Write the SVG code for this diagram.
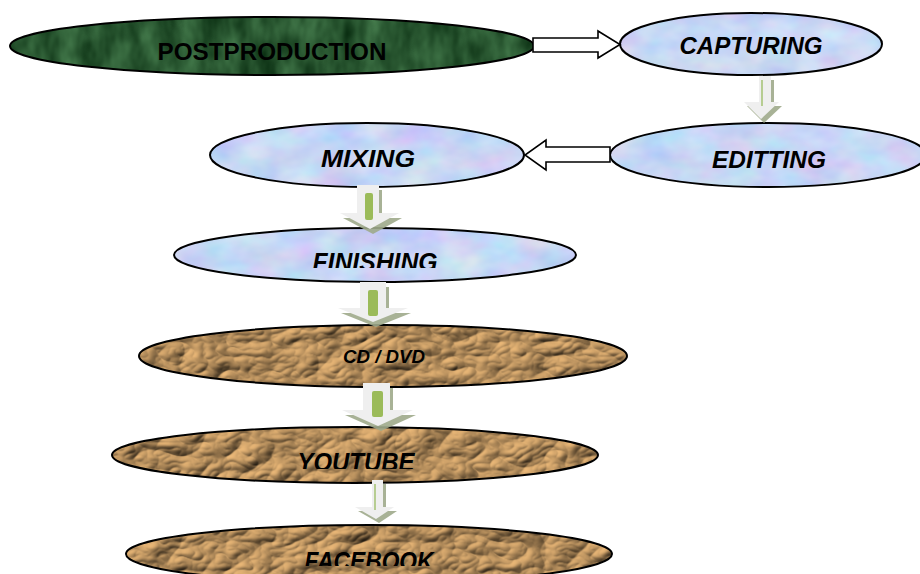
<svg xmlns="http://www.w3.org/2000/svg" width="920" height="574" viewBox="0 0 920 574">
<style>
.node{stroke:#000;stroke-width:2;fill:none}
.lbl{font-family:"Liberation Sans",Arial,sans-serif;font-weight:bold;font-style:italic;fill:#000;text-anchor:middle}
.up{font-style:normal}
.blk{fill:#fff;stroke:#000;stroke-width:1.6;stroke-linejoin:miter}
.shadow{fill:#9eaa8b;opacity:0.9}
.light{fill:#efefef}
.bar{fill:#9bbb59}
.thin{stroke:#9fbf6a;stroke-width:1.4;fill:none}
</style>
<defs>
<filter id="tGreen" x="0" y="0" width="1" height="1" color-interpolation-filters="sRGB">
<feTurbulence type="fractalNoise" baseFrequency="0.05 0.025" numOctaves="3" seed="4"/>
<feColorMatrix type="matrix" values="0.32 0 0 0 0.0  0.42 0 0 0 0.13  0.32 0 0 0 0.03  0 0 0 0 1"/>
<feComposite in2="SourceGraphic" operator="in"/>
</filter>
<filter id="tBlue" x="0" y="0" width="1" height="1" color-interpolation-filters="sRGB">
<feTurbulence type="fractalNoise" baseFrequency="0.025 0.04" numOctaves="3" seed="9"/>
<feColorMatrix type="matrix" values="0.25 0 0 0 0.655  0 0.2 0 0 0.74  0 0 0.08 0 0.92  0 0 0 0 1"/>
<feComposite in2="SourceGraphic" operator="in"/>
</filter>
<filter id="tBrown" x="0" y="0" width="1" height="1" color-interpolation-filters="sRGB">
<feTurbulence type="turbulence" baseFrequency="0.022 0.035" numOctaves="3" seed="7" result="n"/>
<feDiffuseLighting in="n" surfaceScale="4" diffuseConstant="1.15" lighting-color="#d0a36a" result="l">
<feDistantLight azimuth="225" elevation="48"/>
</feDiffuseLighting>
<feComposite in="l" in2="SourceGraphic" operator="in"/>
</filter>
<clipPath id="cFin"><rect x="0" y="0" width="920" height="268"/></clipPath>
<clipPath id="cYt"><rect x="0" y="300" width="920" height="169"/></clipPath>
<clipPath id="cFb"><rect x="0" y="500" width="920" height="66"/></clipPath>
</defs>
<rect width="920" height="574" fill="#fff"/>

<g id="postproduction">
<ellipse cx="272" cy="46" rx="262" ry="29" fill="#000" filter="url(#tGreen)"/>
<ellipse class="node" cx="272" cy="46" rx="262" ry="29"/>
<text class="lbl up" x="272" y="60" font-size="24" textLength="229" lengthAdjust="spacingAndGlyphs">POSTPRODUCTION</text>
</g>
<g id="capturing">
<ellipse cx="751" cy="44" rx="131" ry="31" fill="#000" filter="url(#tBlue)"/>
<ellipse class="node" cx="751" cy="44" rx="131" ry="31"/>
<text class="lbl" x="751" y="54" font-size="24" textLength="143" lengthAdjust="spacingAndGlyphs">CAPTURING</text>
</g>
<g id="editting">
<ellipse cx="768" cy="155" rx="158" ry="32" fill="#000" filter="url(#tBlue)"/>
<ellipse class="node" cx="768" cy="155" rx="158" ry="32"/>
<text class="lbl" x="769" y="168" font-size="24" textLength="114" lengthAdjust="spacingAndGlyphs">EDITTING</text>
</g>
<g id="mixing">
<ellipse cx="367" cy="155" rx="157" ry="32" fill="#000" filter="url(#tBlue)"/>
<ellipse class="node" cx="367" cy="155" rx="157" ry="32"/>
<text class="lbl" x="368" y="167" font-size="24" textLength="94" lengthAdjust="spacingAndGlyphs">MIXING</text>
</g>
<g id="finishing">
<ellipse cx="375" cy="255" rx="201" ry="27" fill="#000" filter="url(#tBlue)"/>
<ellipse class="node" cx="375" cy="255" rx="201" ry="27"/>
<text class="lbl" x="375" y="271" font-size="25" textLength="125" lengthAdjust="spacingAndGlyphs" clip-path="url(#cFin)">FINISHING</text>
</g>
<g id="cddvd">
<ellipse cx="383" cy="356" rx="244" ry="31" fill="#000" filter="url(#tBrown)"/>
<ellipse class="node" cx="383" cy="356" rx="244" ry="31"/>
<text class="lbl" x="384" y="363" font-size="18" textLength="82" lengthAdjust="spacingAndGlyphs">CD / DVD</text>
</g>
<g id="youtube">
<ellipse cx="355" cy="455" rx="243" ry="28" fill="#000" filter="url(#tBrown)"/>
<ellipse class="node" cx="355" cy="455" rx="243" ry="28"/>
<text class="lbl" x="356" y="471" font-size="25" textLength="117" lengthAdjust="spacingAndGlyphs" clip-path="url(#cYt)">YOUTUBE</text>
</g>
<g id="facebook">
<ellipse cx="369" cy="554" rx="243" ry="29" fill="#000" filter="url(#tBrown)"/>
<ellipse class="node" cx="369" cy="554" rx="243" ry="29"/>
<text class="lbl" x="369" y="570" font-size="25" textLength="129" lengthAdjust="spacingAndGlyphs" clip-path="url(#cFb)">FACEBOOK</text>
</g>

<g id="connectors">
<!-- POSTPRODUCTION -> CAPTURING -->
<polygon class="blk" points="533,38 598,38 598,31 620,44.5 598,58 598,52 533,52"/>
<!-- EDITTING -> MIXING -->
<polygon class="blk" points="610,147 546,147 546,140 525,155 546,170 546,162 610,162"/>
<!-- CAPTURING -> EDITTING -->
<g>
<polygon class="shadow" transform="translate(3,4)" points="759,76 771,76 771,102 779,102 761,119 744,102 759,102"/>
<polygon class="light" points="759,76 771,76 771,102 779,102 761,119 744,102 759,102"/>
<line class="thin" x1="762" y1="80" x2="762" y2="106"/>
</g>
<!-- MIXING -> FINISHING -->
<g>
<polygon class="shadow" transform="translate(3,5)" points="357,185 379,185 379,213 399,213 370,229 340,213 357,213"/>
<polygon class="light" points="357,185 379,185 379,213 399,213 370,229 340,213 357,213"/>
<rect class="bar" x="365" y="193" width="8" height="27" rx="2"/>
</g>
<!-- FINISHING -> CD/DVD -->
<g>
<polygon class="shadow" transform="translate(3,5)" points="360,282 386,282 386,308 408,308 373,322 338,308 360,308"/>
<polygon class="light" points="360,282 386,282 386,308 408,308 373,322 338,308 360,308"/>
<rect class="bar" x="368" y="290" width="10" height="26" rx="2"/>
</g>
<!-- CD/DVD -> YOUTUBE -->
<g>
<polygon class="shadow" transform="translate(3,5)" points="363,383 390,383 390,410 413,410 378,426 342,410 363,410"/>
<polygon class="light" points="363,383 390,383 390,410 413,410 378,426 342,410 363,410"/>
<rect class="bar" x="372" y="391" width="11" height="26" rx="2"/>
</g>
<!-- YOUTUBE -> FACEBOOK -->
<g>
<polygon class="shadow" transform="translate(3,4)" points="372,480 383,480 383,507 394,507 376,519 355,507 372,507"/>
<polygon class="light" points="372,480 383,480 383,507 394,507 376,519 355,507 372,507"/>
<line class="thin" x1="375" y1="484" x2="375" y2="510"/>
</g>
</g>
</svg>
